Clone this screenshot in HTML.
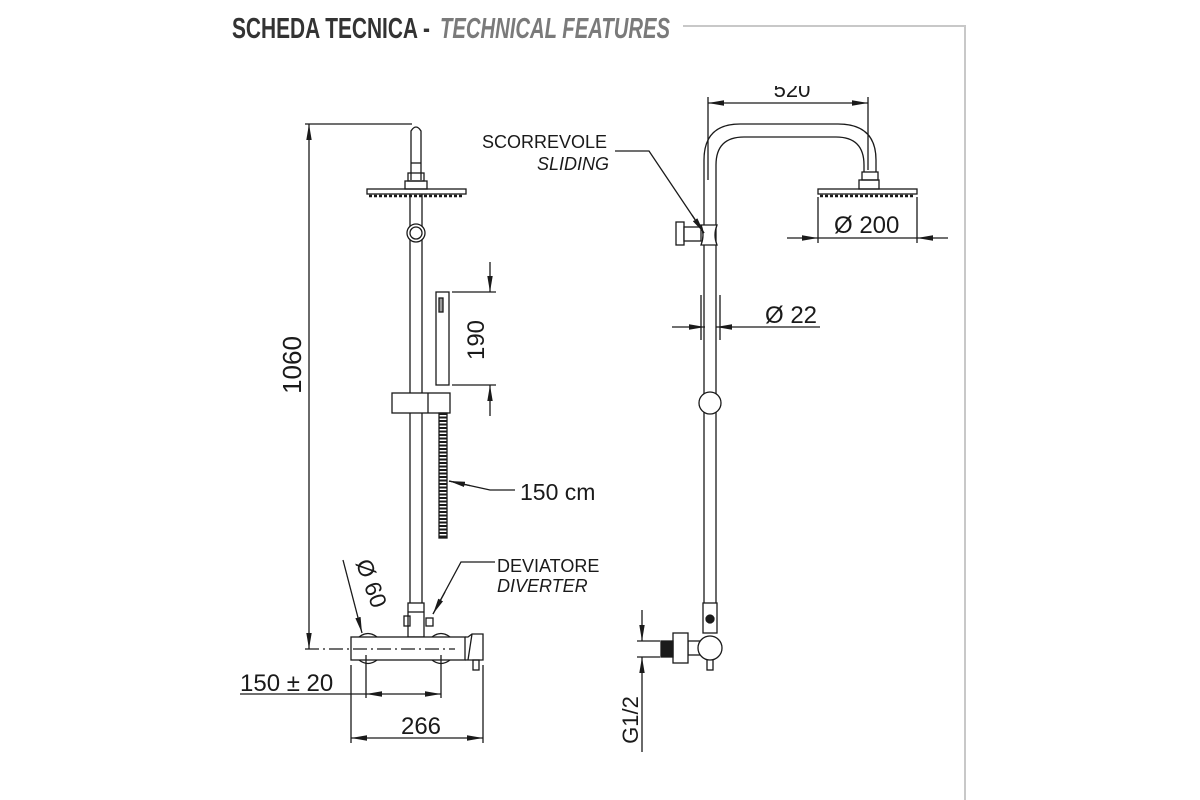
<!DOCTYPE html>
<html><head><meta charset="utf-8"><style>
html,body{margin:0;padding:0;background:#fff;}
svg{display:block;}
text{font-family:"Liberation Sans",sans-serif;fill:#1a1a1a;}
</style></head><body>
<svg width="1200" height="800" viewBox="0 0 1200 800" xmlns="http://www.w3.org/2000/svg">
<defs>
<marker id="a" viewBox="0 0 10 10" refX="10" refY="5" markerWidth="16" markerHeight="6" preserveAspectRatio="none" orient="auto-start-reverse" markerUnits="userSpaceOnUse"><path d="M0,0.5 L10,5 L0,9.5 Z" fill="#1a1a1a"/></marker>
<clipPath id="topclip"><rect x="0" y="86" width="1200" height="30"/></clipPath>
</defs>
<!-- header -->
<text x="232" y="38" font-size="29" textLength="198" lengthAdjust="spacingAndGlyphs" style="font-family:'Liberation Sans Narrow','Liberation Sans',sans-serif;font-weight:bold;fill:#333">SCHEDA TECNICA -</text>
<text x="440" y="38" font-size="29" textLength="230" lengthAdjust="spacingAndGlyphs" style="font-family:'Liberation Sans Narrow','Liberation Sans',sans-serif;font-weight:bold;font-style:italic;fill:#7a7a7a">TECHNICAL FEATURES</text>
<polyline points="683,26 965,26 965,800" fill="none" stroke="#c8c8c8" stroke-width="2"/>

<g fill="none" stroke="#1a1a1a" stroke-width="1.3">
<!-- LEFT DRAWING -->
<path d="M411,180 L411,131 Q416,123 421,131 L421,180"/>
<line x1="411" y1="163" x2="421" y2="163"/>
<rect x="408" y="173" width="16" height="8"/>
<rect x="405" y="181" width="22" height="8"/>
<rect x="367" y="189" width="99" height="5"/>
<line x1="369" y1="196" x2="464" y2="196" stroke-width="2.5" stroke-dasharray="3,2"/>
<line x1="410" y1="194" x2="410" y2="604"/>
<line x1="422" y1="194" x2="422" y2="604"/>
<circle cx="416" cy="233" r="9" fill="#fff"/>
<circle cx="416" cy="233" r="6"/>
<rect x="436" y="292" width="13" height="93"/>
<rect x="439" y="298" width="4" height="14" fill="#999"/>
<rect x="392" y="393" width="58" height="20" fill="#fff"/>
<line x1="428" y1="393" x2="428" y2="413"/>
<line x1="443" y1="413" x2="443" y2="538" stroke-width="7" stroke-dasharray="2,1.5"/>
<rect x="439" y="413" width="8" height="125"/>
<!-- 190 dim -->
<line x1="452" y1="292" x2="496" y2="292"/>
<line x1="452" y1="385" x2="496" y2="385"/>
<line x1="490" y1="262" x2="490" y2="292" marker-end="url(#a)"/>
<line x1="490" y1="416" x2="490" y2="385" marker-end="url(#a)"/>
<!-- 1060 dim -->
<line x1="305" y1="124" x2="412" y2="124"/>
<line x1="309" y1="400" x2="309" y2="124" marker-end="url(#a)"/>
<line x1="309" y1="400" x2="309" y2="649" marker-end="url(#a)"/>
<!-- diverter -->
<rect x="408" y="603" width="16" height="34" fill="#fff"/>
<line x1="408" y1="612" x2="424" y2="612"/>
<rect x="404" y="616" width="6" height="10"/>
<rect x="426" y="618" width="7" height="8"/>
<!-- mixer -->
<path d="M359,637 Q368,630 377,637 M432,637 Q441,630 450,637"/>
<path d="M359,660 Q368,667 377,660 M432,660 Q441,667 450,660"/>
<rect x="351" y="637" width="114" height="23" fill="#fff"/>
<path d="M465,637 L468,637 L472,634 L483,634 L483,660 L465,660"/>
<line x1="472" y1="634" x2="468" y2="660"/>
<rect x="473" y="660" width="6" height="10"/>
<line x1="305" y1="649" x2="455" y2="649" stroke-dasharray="14,4,2,4"/>
<line x1="343" y1="560" x2="362" y2="633" marker-end="url(#a)"/>
<!-- 150±20 -->
<line x1="366" y1="655" x2="366" y2="698"/>
<line x1="441" y1="655" x2="441" y2="698"/>
<line x1="240" y1="694" x2="366" y2="694"/>
<line x1="400" y1="694" x2="366" y2="694" marker-end="url(#a)"/>
<line x1="400" y1="694" x2="441" y2="694" marker-end="url(#a)"/>
<!-- 266 -->
<line x1="351" y1="665" x2="351" y2="743"/>
<line x1="483" y1="665" x2="483" y2="743"/>
<line x1="417" y1="738" x2="351" y2="738" marker-end="url(#a)"/>
<line x1="417" y1="738" x2="483" y2="738" marker-end="url(#a)"/>
<!-- 150cm leader -->
<polyline points="515,490 490,490 449,481"/>
<line x1="470" y1="485.6" x2="449" y2="481" marker-end="url(#a)"/>
<!-- diverter leader -->
<polyline points="495,562 461,562 433,614"/>
<line x1="445" y1="592" x2="433" y2="614" marker-end="url(#a)"/>

<!-- RIGHT DRAWING -->
<path d="M704,620 L704,160 Q704,124 740,124 L838,124 Q876,124 876,160 L876,172"/>
<path d="M716,620 L716,165 Q716,137 744,137 L836,137 Q864,137 864,165 L864,172"/>
<rect x="862" y="172" width="16" height="8"/>
<rect x="859" y="180" width="20" height="9"/>
<rect x="818" y="189" width="99" height="5"/>
<line x1="820" y1="196" x2="915" y2="196" stroke-width="2.5" stroke-dasharray="3,2"/>
<line x1="708" y1="97" x2="708" y2="180"/>
<line x1="868" y1="97" x2="868" y2="170"/>
<line x1="788" y1="103" x2="708" y2="103" marker-end="url(#a)"/>
<line x1="788" y1="103" x2="868" y2="103" marker-end="url(#a)"/>
<line x1="818" y1="197" x2="818" y2="243"/>
<line x1="917" y1="197" x2="917" y2="243"/>
<line x1="787" y1="238" x2="818" y2="238" marker-end="url(#a)"/>
<line x1="948" y1="238" x2="917" y2="238" marker-end="url(#a)"/>
<line x1="818" y1="238" x2="917" y2="238"/>
<rect x="676" y="222" width="8" height="23" fill="#fff"/>
<rect x="684" y="227" width="17" height="14" fill="#fff"/>
<path d="M701,225 L717,225 Q713,235 717,245 L701,245 Q705,235 701,225 Z" fill="#fff"/>
<polyline points="615,151 649,151 704,233"/>
<line x1="692" y1="215" x2="704" y2="233" marker-end="url(#a)"/>
<line x1="672" y1="327" x2="705" y2="327" marker-end="url(#a)"/>
<line x1="820" y1="327" x2="716" y2="327" marker-end="url(#a)"/>
<line x1="701" y1="295" x2="701" y2="340"/>
<line x1="720" y1="295" x2="720" y2="340"/>
<circle cx="710" cy="403" r="11" fill="#fff"/>
<rect x="703" y="603" width="14" height="30" fill="#fff"/>
<circle cx="710" cy="619" r="4" fill="#1a1a1a"/>
<rect x="688" y="641" width="12" height="14"/>
<rect x="673" y="633" width="15" height="30" fill="#fff"/>
<rect x="661" y="641" width="12" height="16" fill="#1a1a1a"/>
<rect x="707" y="658" width="6" height="12"/>
<circle cx="710" cy="648" r="12" fill="#fff"/>
<line x1="637" y1="641" x2="660" y2="641"/>
<line x1="637" y1="657" x2="660" y2="657"/>
<line x1="642" y1="610" x2="642" y2="641" marker-end="url(#a)"/>
<line x1="642" y1="752" x2="642" y2="657" marker-end="url(#a)"/>
</g>

<!-- labels -->
<text x="301" y="365" font-size="26" text-anchor="middle" transform="rotate(-90 301 365)">1060</text>
<text x="484" y="340" font-size="24" text-anchor="middle" transform="rotate(-90 484 340)">190</text>
<text x="520" y="500" font-size="23">150 cm</text>
<text x="497" y="572" font-size="18">DEVIATORE</text>
<text x="497" y="592" font-size="18" font-style="italic">DIVERTER</text>
<text x="364" y="586" font-size="23" text-anchor="middle" transform="rotate(70 364 586)">Ø 60</text>
<text x="240" y="691" font-size="24">150 ± 20</text>
<text x="421" y="734" font-size="24" text-anchor="middle">266</text>
<text x="482" y="148" font-size="18">SCORREVOLE</text>
<text x="537" y="170" font-size="18" font-style="italic">SLIDING</text>
<text x="792" y="97" font-size="22" text-anchor="middle" clip-path="url(#topclip)">520</text>
<text x="834" y="233" font-size="24">Ø 200</text>
<text x="765" y="323" font-size="24">Ø 22</text>
<text x="638" y="720" font-size="22" text-anchor="middle" transform="rotate(-90 638 720)">G1/2</text>
</svg>
</body></html>
